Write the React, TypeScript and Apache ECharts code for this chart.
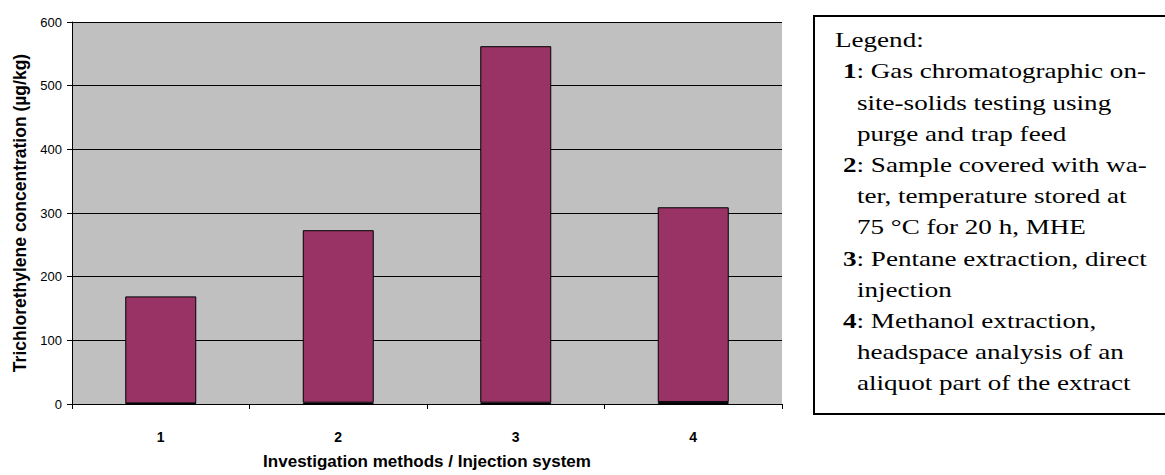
import React, { useEffect, useRef } from "react";
import * as echarts from "echarts";

const categories = ["1", "2", "3", "4"];
const baseValues = [1, 2, 2, 3];
const mainValues = [168, 271, 560, 306];
const yTicks = { min: 0, max: 600, interval: 100 };

const legendLines: { text: string; indent: number }[] = [
  { text: "Legend:", indent: 0 },
  { text: "{b|1}: Gas chromatographic on-", indent: 1 },
  { text: "site-solids testing using", indent: 2 },
  { text: "purge and trap feed", indent: 2 },
  { text: "{b|2}: Sample covered with wa-", indent: 1 },
  { text: "ter, temperature stored at", indent: 2 },
  { text: "75 °C for 20 h, MHE", indent: 2 },
  { text: "{b|3}: Pentane extraction, direct", indent: 1 },
  { text: "injection", indent: 2 },
  { text: "{b|4}: Methanol extraction,", indent: 1 },
  { text: "headspace analysis of an", indent: 2 },
  { text: "aliquot part of the extract", indent: 2 },
];

const SERIF = "'Liberation Serif', 'Times New Roman', serif";
const SANS = "'Liberation Sans', Arial, sans-serif";

export default function App() {
  const ref = useRef<HTMLDivElement>(null);
  useEffect(() => {
    if (!ref.current) return;
    const chart = echarts.init(ref.current, null, { renderer: "svg" });
    const indentX = [835, 843, 857];
    const fs = 21.5;
    const texts = legendLines.map((l, i) => ({
      type: "text",
      x: indentX[l.indent],
      y: 47 + i * 31.2 - 7.2,
      scaleX: 1.26,
      style: {
        text: l.text,
        x: 0,
        y: 0,
        fontSize: fs,
        fontFamily: SERIF,
        fill: "#000",
        verticalAlign: "middle",
        align: "left",
        rich: {
          b: { fontWeight: "bold", fontSize: fs, fontFamily: SERIF, fill: "#000" },
        },
      },
    }));
    chart.setOption({
      animation: false,
      grid: { left: 72, top: 22, right: 383, bottom: 61, show: true, backgroundColor: "#C0C0C0", borderWidth: 0 },
      xAxis: {
        type: "category",
        data: categories,
        name: "Investigation methods / Injection system",
        nameLocation: "middle",
        nameGap: 49,
        nameTextStyle: { fontFamily: SANS, fontWeight: "bold", fontSize: 17, color: "#000" },
        axisLine: { show: true, lineStyle: { color: "#000", width: 1 } },
        axisTick: { show: true, alignWithLabel: false, length: 5, lineStyle: { color: "#000" } },
        axisLabel: { fontFamily: SANS, fontWeight: "bold", fontSize: 14, color: "#000", margin: 26 },
        splitLine: { show: false },
      },
      yAxis: {
        type: "value",
        min: yTicks.min,
        max: yTicks.max,
        interval: yTicks.interval,
        name: "Trichlorethylene concentration (µg/kg)",
        nameLocation: "middle",
        nameGap: 41,
        nameTextStyle: { fontFamily: SANS, fontWeight: "bold", fontSize: 17.5, color: "#000" },
        axisLine: { show: true, lineStyle: { color: "#000", width: 1 } },
        axisTick: { show: true, length: 5, lineStyle: { color: "#000" } },
        axisLabel: { fontFamily: SANS, fontSize: 13, color: "#000", margin: 10 },
        splitLine: { show: true, lineStyle: { color: "#000", width: 1 } },
      },
      series: [
        {
          type: "bar",
          stack: "s",
          data: baseValues,
          barWidth: "40%",
          itemStyle: { color: "#9999FF", borderColor: "#000", borderWidth: 1 },
        },
        {
          type: "bar",
          stack: "s",
          data: mainValues,
          barWidth: "40%",
          itemStyle: { color: "#993366", borderColor: "#000", borderWidth: 1 },
        },
      ],
      graphic: [
        {
          type: "rect",
          shape: { x: 814, y: 16, width: 360, height: 398 },
          style: { fill: "#fff", stroke: "#000", lineWidth: 2 },
        },
        ...texts,
      ],
    });
    return () => chart.dispose();
  }, []);
  return <div ref={ref} style={{ position: "absolute", left: 0, top: 0, width: 1165, height: 475 }} />;
}
